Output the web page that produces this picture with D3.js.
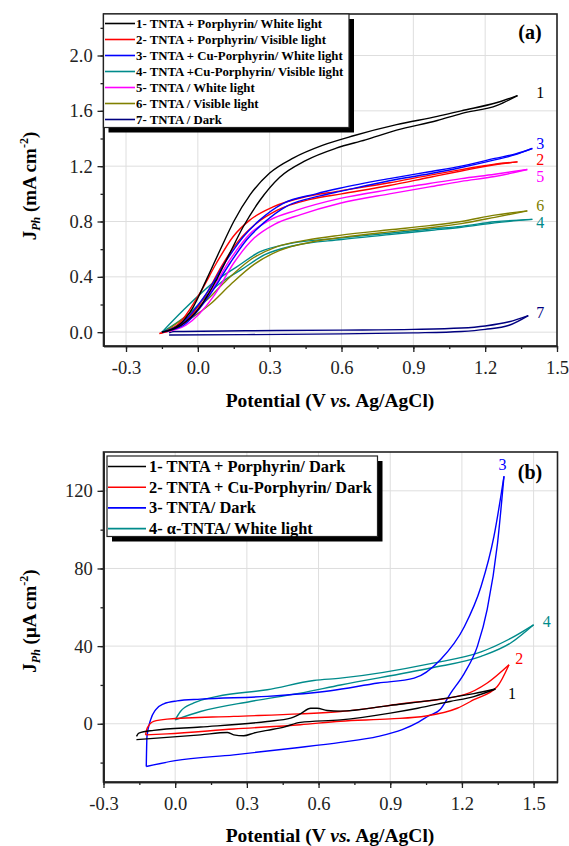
<!DOCTYPE html>
<html>
<head>
<meta charset="utf-8">
<script src="https://cdn.jsdelivr.net/npm/d3@7"></script>
<style>
  body { margin: 0; background: #fff; }
  text { font-family: "Liberation Serif", "Times New Roman", serif; }
</style>
</head>
<body>
<script>
(function(){
    "use strict";

    // ---- panel (a) data: two sweep branches per curve, [potential V, mA cm-2]
    const a1Fwd = [[-0.15,0],[-0.08,0.05],[-0.02,0.18],[0.036,0.38],[0.092,0.59],[0.15,0.8],[0.217,0.99],[0.30,1.15],[0.40,1.26],[0.52,1.35],[0.65,1.42],[0.83,1.5],[1.0,1.56],[1.1,1.6],[1.25,1.66],[1.335,1.71]];
    const a1Rev = [[-0.15,0],[-0.07,0.05],[0.008,0.18],[0.078,0.38],[0.133,0.57],[0.189,0.76],[0.258,0.95],[0.342,1.12],[0.45,1.24],[0.578,1.33],[0.7,1.39],[0.83,1.46],[1.0,1.53],[1.1,1.58],[1.25,1.64],[1.335,1.71]];
    const a2Fwd = [[-0.16,-0.01],[-0.08,0.06],[0.008,0.28],[0.078,0.50],[0.147,0.69],[0.217,0.81],[0.314,0.905],[0.453,0.98],[0.59,1.02],[0.8,1.08],[0.97,1.135],[1.1,1.175],[1.24,1.215],[1.335,1.231]];
    const a2Rev = [[-0.16,-0.01],[-0.07,0.05],[0.03,0.26],[0.1,0.48],[0.17,0.66],[0.24,0.78],[0.33,0.88],[0.47,0.96],[0.6,1.0],[0.8,1.06],[0.97,1.12],[1.1,1.165],[1.24,1.21],[1.335,1.231]];
    const a3Fwd = [[-0.15,0],[-0.07,0.06],[0.036,0.28],[0.12,0.52],[0.19,0.69],[0.258,0.81],[0.355,0.93],[0.494,1.0],[0.592,1.04],[0.8,1.11],[0.967,1.16],[1.1,1.2],[1.24,1.256],[1.33,1.29],[1.397,1.328]];
    const a3Rev = [[-0.15,0],[-0.06,0.05],[0.05,0.27],[0.135,0.5],[0.205,0.67],[0.275,0.79],[0.37,0.91],[0.51,0.985],[0.6,1.02],[0.8,1.095],[0.967,1.145],[1.1,1.19],[1.24,1.245],[1.33,1.285],[1.397,1.328]];
    const a4Fwd = [[-0.15,0],[-0.06,0.16],[0.078,0.376],[0.161,0.47],[0.258,0.58],[0.383,0.64],[0.592,0.68],[0.8,0.715],[0.967,0.745],[1.1,0.765],[1.24,0.798],[1.397,0.815]];
    const a4Rev = [[-0.15,0],[-0.04,0.13],[0.09,0.35],[0.18,0.45],[0.28,0.56],[0.4,0.625],[0.6,0.67],[0.8,0.705],[0.967,0.735],[1.1,0.758],[1.24,0.79],[1.397,0.815]];
    const a5Fwd = [[-0.14,0],[-0.06,0.06],[0.05,0.28],[0.133,0.52],[0.217,0.71],[0.30,0.81],[0.41,0.88],[0.59,0.965],[0.8,1.03],[0.967,1.075],[1.1,1.11],[1.24,1.142],[1.376,1.176]];
    const a5Rev = [[-0.14,0],[-0.05,0.05],[0.07,0.27],[0.15,0.5],[0.235,0.68],[0.32,0.78],[0.43,0.85],[0.59,0.93],[0.8,1.0],[0.967,1.05],[1.1,1.09],[1.24,1.125],[1.376,1.176]];
    const a6Fwd = [[-0.14,0],[-0.033,0.135],[0.036,0.23],[0.12,0.376],[0.217,0.52],[0.328,0.617],[0.453,0.665],[0.592,0.70],[0.8,0.74],[0.967,0.77],[1.1,0.8],[1.24,0.846],[1.376,0.877]];
    const a6Rev = [[-0.14,0],[-0.02,0.11],[0.05,0.2],[0.14,0.35],[0.235,0.49],[0.34,0.59],[0.47,0.65],[0.6,0.685],[0.8,0.725],[0.967,0.755],[1.1,0.785],[1.24,0.83],[1.376,0.877]];
    const a7Fwd = [[-0.12,-0.005],[-0.1,0.005],[0.2,0.01],[0.6,0.015],[0.9,0.02],[1.1,0.03],[1.2,0.045],[1.3,0.075],[1.38,0.12]];
    const a7Rev = [[-0.12,-0.02],[0.2,-0.018],[0.6,-0.012],[0.9,-0.005],[1.1,0.005],[1.2,0.02],[1.3,0.05],[1.38,0.12]];

    const aNames = ["1- TNTA + Porphyrin/ White light", "2- TNTA + Porphyrin/ Visible light",
        "3- TNTA + Cu-Porphyrin/ White light", "4- TNTA +Cu-Porphyrin/ Visible light",
        "5- TNTA / White light", "6- TNTA / Visible light", "7- TNTA / Dark"];
    const aColors = ["#000000", "#ff0000", "#0000ff", "#008b8b", "#ff00ff", "#808000", "#000080"];
    const aTags = ["1", "2", "3", "4", "5", "6", "7"];
    const aTagPos = [[1.43, 1.737], [1.43, 1.249], [1.43, 1.369], [1.43, 0.8], [1.43, 1.128], [1.43, 0.916], [1.43, 0.145]];
    const aXTicks = [-0.3, 0.0, 0.3, 0.6, 0.9, 1.2, 1.5];
    const aYTicks = [0.0, 0.4, 0.8, 1.2, 1.6, 2.0];

    // ---- panel (b) data: [potential V, uA cm-2]
    const b1Up = [[-0.162,-6.5],[-0.152,-4.8],[-0.09,-3.4],[0.106,-1.7],[0.385,1.2],[0.483,2.9],[0.524,5.1],[0.567,8],[0.594,8],[0.636,6.8],[0.692,6.5],[0.9,9.5],[1.11,12.7],[1.25,15.5],[1.34,17.9]];
    const b1Down = [[-0.162,-8.2],[0.106,-5.7],[0.218,-4.5],[0.245,-5.7],[0.287,-6.2],[0.329,-4.8],[0.385,-3.4],[0.455,-1.7],[0.524,0.7],[0.692,2],[0.9,5.5],[1.015,8],[1.15,11.5],[1.25,14],[1.34,17.9]];
    const b2Up = [[-0.124,-5.7],[-0.117,-2.2],[-0.09,1.2],[-0.034,2.4],[0.245,3.8],[0.524,5.1],[0.692,6.3],[0.94,10.2],[1.21,15],[1.306,21],[1.397,30.4]];
    const b2Down = [[-0.124,-5.7],[-0.034,-5.2],[0.245,-2.7],[0.524,-0.5],[0.692,1.3],[0.9,2.5],[1.05,4],[1.18,8],[1.25,12.4],[1.348,19.2],[1.397,30.4]];
    const b3Up = [[-0.121,-22],[-0.118,-6.5],[-0.103,2],[-0.082,7.2],[-0.048,10.3],[0.008,11.8],[0.106,12.7],[0.385,14.1],[0.65,17],[0.85,21],[1.0,23.5],[1.11,33],[1.21,50],[1.28,70.7],[1.334,96.5],[1.376,127.5]];
    const b3Down = [[-0.121,-22],[0.0,-19],[0.245,-16],[0.5,-12.5],[0.692,-9.6],[0.85,-6.5],[0.95,-3],[1.02,1],[1.06,4],[1.11,7.5],[1.153,15.8],[1.21,26],[1.265,40],[1.306,59],[1.349,93],[1.376,127.5]];
    const b4Up = [[0.0,2],[0.022,6.3],[0.078,10.7],[0.176,14.1],[0.385,17.5],[0.58,22.3],[0.692,23.5],[1.069,31],[1.28,37],[1.404,44],[1.5,51]];
    const b4Down = [[0.0,2],[0.106,6.3],[0.315,11.5],[0.524,15.8],[0.692,20],[1.069,28.7],[1.28,34.7],[1.404,41.6],[1.5,51]];

    const bNames = ["1- TNTA + Porphyrin/ Dark", "2- TNTA + Cu-Porphyrin/ Dark", "3- TNTA/ Dark", "4- \u03b1-TNTA/ White light"];
    const bColors = ["#000000", "#ff0000", "#0000ff", "#008b8b"];
    const bTags = ["1", "2", "3", "4"];
    const bTagPos = [[1.41, 16], [1.44, 34], [1.37, 134], [1.555, 53]];
    const bXTicks = [-0.3, 0.0, 0.3, 0.6, 0.9, 1.2, 1.5];
    const bYTicks = [0, 40, 80, 120];

    let svg = d3.select("body").append("svg")
        .attr("width", 569)
        .attr("height", 846);
    svg.append("rect").attr("width", 569).attr("height", 846).attr("fill", "#fff");

    drawPanel({
        x: d3.scaleLinear().domain([-0.394, 1.5]).range([103.5, 557]),
        y: d3.scaleLinear().domain([-0.1, 2.3]).range([346, 14]),
        xTicks: aXTicks, yTicks: aYTicks,
        xMinor: d3.range(-0.3, 1.51, 0.15), yMinor: d3.range(0, 2.25, 0.2),
        yFmt: d => d.toFixed(1),
        series: [[a1Fwd, a1Rev], [a2Fwd, a2Rev], [a3Fwd, a3Rev], [a4Fwd, a4Rev], [a5Fwd, a5Rev], [a6Fwd, a6Rev], [a7Fwd, a7Rev]],
        colors: aColors, tags: aTags, tagPos: aTagPos,
        drawOrder: [6, 3, 5, 4, 1, 2, 0],
        letter: "(a)", letterY: 39,
        xTitleY: 407, yUnit: "mA", yTitleShift: 6
    });
    legend(aNames, aColors, {x0: 103.5, y0: 14, w: 245.5, h: 113.5, row0: 23.5, dy: 16, lx0: 105, lx1: 135, tx: 136, size: 12.8});

    drawPanel({
        x: d3.scaleLinear().domain([-0.3, 1.6]).range([103.5, 557.5]),
        y: d3.scaleLinear().domain([-30, 140]).range([782, 452]),
        xTicks: bXTicks, yTicks: bYTicks,
        xMinor: d3.range(-0.3, 1.51, 0.15), yMinor: d3.range(-20, 140, 20),
        yFmt: d => d.toFixed(0),
        series: [[b1Up, b1Down], [b2Up, b2Down], [b3Up, b3Down], [b4Up, b4Down]],
        colors: bColors, tags: bTags, tagPos: bTagPos,
        drawOrder: [3, 2, 1, 0],
        letter: "(b)", letterY: 479,
        xTitleY: 842, yUnit: "\u03bcA", yTitleShift: 4
    });
    legend(bNames, bColors, {x0: 107, y0: 456, w: 270.5, h: 80.5, row0: 466.5, dy: 20.7, lx0: 108, lx1: 146, tx: 149, size: 16.4});

    function drawPanel(p) {
        let g = svg.append("g");
        let x0 = p.x.range()[0], x1 = p.x.range()[1];
        let yb = p.y.range()[0], yt = p.y.range()[1];

        // grid
        g.selectAll(".gx").data(p.xTicks).enter().append("line")
            .attr("x1", d => p.x(d)).attr("x2", d => p.x(d))
            .attr("y1", yt).attr("y2", yb)
            .attr("stroke", "#dedede").attr("stroke-width", 1);
        g.selectAll(".gy").data(p.yTicks).enter().append("line")
            .attr("x1", x0).attr("x2", x1)
            .attr("y1", d => p.y(d)).attr("y2", d => p.y(d))
            .attr("stroke", "#dedede").attr("stroke-width", 1);

        // curves
        let line = d3.line()
            .x(d => p.x(d[0]))
            .y(d => p.y(d[1]))
            .curve(d3.curveMonotoneX);
        p.drawOrder.forEach(function(i) {
            p.series[i].forEach(function(branch) {
                g.append("path")
                    .attr("d", line(branch))
                    .attr("fill", "none")
                    .attr("stroke", p.colors[i])
                    .attr("stroke-width", 1.4);
            });
        });

        // curve tags
        g.selectAll(".tag").data(p.tags).enter().append("text")
            .attr("x", (d, i) => p.x(p.tagPos[i][0]))
            .attr("y", (d, i) => p.y(p.tagPos[i][1]) + 6)
            .attr("text-anchor", "middle")
            .attr("font-size", 16)
            .attr("fill", (d, i) => p.colors[i])
            .text(d => d);

        // axes
        let xAxis = d3.axisBottom(p.x).tickValues(p.xTicks).tickSize(6).tickSizeOuter(0)
            .tickFormat(d => d.toFixed(1));
        let yAxis = d3.axisLeft(p.y).tickValues(p.yTicks).tickSize(6).tickSizeOuter(0)
            .tickFormat(p.yFmt);
        let xMin = d3.axisBottom(p.x).tickValues(p.xMinor).tickSize(3).tickSizeOuter(0).tickFormat("");
        let yMin = d3.axisLeft(p.y).tickValues(p.yMinor).tickSize(3).tickSizeOuter(0).tickFormat("");

        [xMin, xAxis].forEach(function(ax) {
            let a = g.append("g").attr("transform", "translate(0," + yb + ")").call(ax);
            styleAxis(a);
            a.selectAll("text").attr("dy", "1.0em");
        });
        [yMin, yAxis].forEach(function(ax) {
            let a = g.append("g").attr("transform", "translate(" + x0 + ",0)").call(ax);
            styleAxis(a);
            a.selectAll("text").attr("dx", "-0.1em");
        });

        // frame
        g.append("rect")
            .attr("x", x0).attr("y", yt)
            .attr("width", x1 - x0).attr("height", yb - yt)
            .attr("fill", "none").attr("stroke", "#222").attr("stroke-width", 1.6);

        g.append("text")
            .attr("x", 530).attr("y", p.letterY)
            .attr("text-anchor", "middle")
            .attr("font-size", 20).attr("font-weight", "bold")
            .text(p.letter);

        // x title
        let xt = g.append("text")
            .attr("x", 330).attr("y", p.xTitleY)
            .attr("text-anchor", "middle")
            .attr("font-size", 19.5).attr("font-weight", "bold");
        xt.append("tspan").text("Potential (V ");
        xt.append("tspan").attr("font-style", "italic").text("vs.");
        xt.append("tspan").text(" Ag/AgCl)");

        // y title
        let yt2 = g.append("text")
            .attr("transform", "translate(36," + ((yt + yb) / 2 + p.yTitleShift) + ") rotate(-90)")
            .attr("text-anchor", "middle")
            .attr("font-size", 19).attr("font-weight", "bold");
        yt2.append("tspan").text("J");
        yt2.append("tspan").attr("font-size", 12).attr("font-style", "italic").attr("dy", 4).text("Ph");
        yt2.append("tspan").attr("dy", -4).text(" (" + p.yUnit + " cm");
        yt2.append("tspan").attr("font-size", 12).attr("dy", -8).text("-2");
        yt2.append("tspan").attr("dy", 8).text(")");
    }

    function styleAxis(a) {
        a.attr("font-family", null);
        a.select(".domain").attr("stroke", "#222").attr("stroke-width", 1.6);
        a.selectAll(".tick line").attr("stroke", "#222").attr("stroke-width", 1.3);
        a.selectAll("text")
            .attr("font-size", 18.5)
            .attr("fill", "#222");
    }

    function legend(names, colors, o) {
        let g = svg.append("g");
        g.append("rect")
            .attr("x", o.x0 + 5).attr("y", o.y0 + 5)
            .attr("width", o.w).attr("height", o.h)
            .attr("fill", "#000");
        g.append("rect")
            .attr("x", o.x0).attr("y", o.y0)
            .attr("width", o.w).attr("height", o.h)
            .attr("fill", "#fff").attr("stroke", "#222").attr("stroke-width", 1.2);
        names.forEach(function(n, i) {
            let cy = o.row0 + i * o.dy;
            g.append("line")
                .attr("x1", o.lx0).attr("x2", o.lx1)
                .attr("y1", cy).attr("y2", cy)
                .attr("stroke", colors[i]).attr("stroke-width", 1.6);
            g.append("text")
                .attr("x", o.tx).attr("y", cy + o.size * 0.33)
                .attr("font-size", o.size).attr("font-weight", "bold")
                .text(n);
        });
    }
})()
</script>
</body>
</html>
